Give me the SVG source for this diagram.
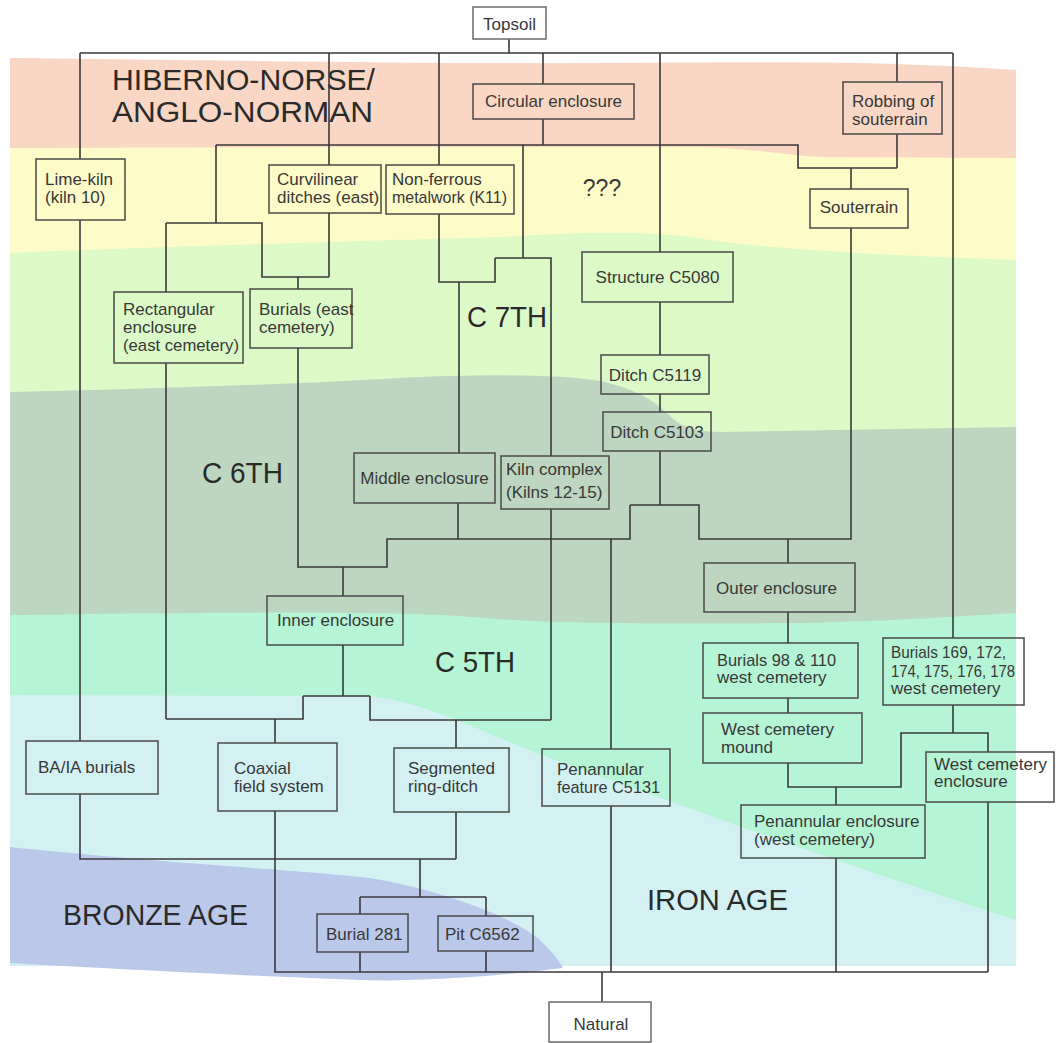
<svg xmlns="http://www.w3.org/2000/svg" width="1056" height="1043" viewBox="0 0 1056 1043">
<style>
.box{fill:none;stroke:#4a4a4a;stroke-width:1.5}
.wbox{fill:#fff;stroke:#6a6a6a;stroke-width:1.5}
.t{font-family:"Liberation Sans",Arial,sans-serif;font-size:17px;fill:#383838}
.c{text-anchor:middle}
.era{font-family:"Liberation Sans",Arial,sans-serif;font-size:30px;fill:#2a2a2a}
.ln{fill:none;stroke:#3a3a3a;stroke-width:1.6}
</style>
<rect width="1056" height="1043" fill="#fff"/>
<g id="bands">
<path fill="#f9d7c4" d="M10,58 C200,60 450,64 600,63 C750,62 880,60 1016,70 L1016,966 L10,966 Z"/>
<path fill="#fdfbc8" d="M10,148 L300,147 L700,147 C760,149 790,156 820,157 L1016,158 L1016,966 L10,966 Z"/>
<path fill="#dcfac7" d="M10,253 C150,247 400,240 500,237 C560,234 640,228 710,240 C780,250 900,256 1016,260 L1016,966 L10,966 Z"/>
<path fill="#bdd6bf" d="M10,392 C150,389 300,384 400,378 C480,374 560,374 600,381 C640,390 655,402 668,414 C678,425 690,431 720,432 L1016,427 L1016,966 L10,966 Z"/>
<path fill="#b5f4d4" d="M10,615 C200,612 400,611 470,617 C530,622 600,624 800,623 C900,621 960,616 1016,613 L1016,966 L10,966 Z"/>
<path fill="#d3f1f3" d="M10,695 L370,696 C430,703 480,732 550,758 C640,790 800,850 1016,920 L1016,966 L10,966 Z"/>
<path fill="#bac8ea" d="M10,847 C150,862 300,870 370,878 C440,890 510,915 540,940 C552,952 560,962 563,968 C500,976 420,982 360,980 C250,976 100,968 10,963 Z"/>
</g>
<g id="era-labels">
<text class="era" x="112" y="90" textLength="263" lengthAdjust="spacingAndGlyphs">HIBERNO-NORSE/</text>
<text class="era" x="112" y="122" textLength="261" lengthAdjust="spacingAndGlyphs">ANGLO-NORMAN</text>
<text class="era" x="467" y="327" textLength="80" lengthAdjust="spacingAndGlyphs">C 7TH</text>
<text class="era" x="202" y="483" textLength="81" lengthAdjust="spacingAndGlyphs">C 6TH</text>
<text class="era" x="435" y="672" textLength="80" lengthAdjust="spacingAndGlyphs">C 5TH</text>
<text class="era" x="63" y="925" textLength="185" lengthAdjust="spacingAndGlyphs">BRONZE AGE</text>
<text class="era" x="647" y="910" textLength="141" lengthAdjust="spacingAndGlyphs">IRON AGE</text>
<text class="t c" x="602" y="196" style="font-size:23px">???</text>
</g>
<g id="connectors">
<path class="ln" d="M509,39 V53 M80,53 H953"/>
<path class="ln" d="M80,53 V159 M329,53 V165 M439,53 V165 M543,53 V84 M660,53 V252 M897,53 V82 M953,53 V638"/>
<path class="ln" d="M543,119 V145 M216,145 H798 V168 H897 M897,134 V168 M851,168 V189"/>
<path class="ln" d="M216,145 V223 M166,223 H262 V277 H329 M166,223 V292 M329,213 V277 M298,277 V289"/>
<path class="ln" d="M523,145 V258 M495,258 H551 V456 M439,214 V282 H495 V258 M459,282 V453"/>
<path class="ln" d="M660,302 V355 M660,394 V412 M660,451 V505 M630,505 H699 V539 H851 V228 M630,505 V539 H387 V567 H298 V348 M343,567 V596"/>
<path class="ln" d="M458,503 V539 M551,509 V720 M788,539 V563 M611,539 V749"/>
<path class="ln" d="M343,645 V696 M303,696 H370 M303,696 V719 H166 M166,363 V719 M275,719 V743 M370,696 V720 H551 M456,720 V748"/>
<path class="ln" d="M80,220 V741 M80,794 V859 H456 M456,812 V859 M420,859 V897 M360,897 H486 M360,897 V914 M486,897 V916"/>
<path class="ln" d="M275,811 V972 H988 M360,952 V972 M486,951 V972 M611,806 V972 M602,972 V1002"/>
<path class="ln" d="M788,612 V643 M788,698 V713 M788,763 V787 H901 V733 H988 V752 M953,705 V733 M836,787 V805 M836,858 V972 M988,802 V972"/>
</g>
<g id="topsoil"><rect class="wbox" x="473" y="7" width="73" height="32"/><text class="t c" x="509.5" y="30">Topsoil</text></g>
<g id="circular-enclosure"><rect class="box" x="473" y="84" width="161" height="35"/><text class="t c" x="553.5" y="107">Circular enclosure</text></g>
<g id="robbing-souterrain"><rect class="box" x="843" y="82" width="99" height="52"/><text class="t" x="852" y="106.5">Robbing of</text><text class="t" x="852" y="125">souterrain</text></g>
<g id="lime-kiln"><rect class="box" x="36" y="159" width="89" height="61"/><text class="t" x="45" y="185">Lime-kiln</text><text class="t" x="45" y="203">(kiln 10)</text></g>
<g id="curvilinear-ditches"><rect class="box" x="269" y="165" width="112" height="48"/><text class="t" x="277" y="185">Curvilinear</text><text class="t" x="277" y="203">ditches (east)</text></g>
<g id="non-ferrous"><rect class="box" x="386" y="165" width="128" height="49"/><text class="t" x="392" y="185">Non-ferrous</text><text class="t" x="392" y="203" textLength="115" lengthAdjust="spacingAndGlyphs">metalwork (K11)</text></g>
<g id="souterrain"><rect class="box" x="810" y="189" width="98" height="39"/><text class="t c" x="859" y="213">Souterrain</text></g>
<g id="structure-c5080"><rect class="box" x="582" y="252" width="151" height="50"/><text class="t c" x="657.5" y="283">Structure C5080</text></g>
<g id="rectangular-enclosure"><rect class="box" x="114" y="292" width="129" height="71"/><text class="t" x="123" y="315">Rectangular</text><text class="t" x="123" y="333">enclosure</text><text class="t" x="123" y="351" textLength="116" lengthAdjust="spacingAndGlyphs">(east cemetery)</text></g>
<g id="burials-east"><rect class="box" x="250" y="289" width="102" height="59"/><text class="t" x="259" y="315">Burials (east</text><text class="t" x="259" y="333">cemetery)</text></g>
<g id="ditch-c5119"><rect class="box" x="601" y="355" width="108" height="39"/><text class="t c" x="655" y="381">Ditch C5119</text></g>
<g id="ditch-c5103"><rect class="box" x="603" y="412" width="108" height="39"/><text class="t c" x="657" y="438">Ditch C5103</text></g>
<g id="middle-enclosure"><rect class="box" x="354" y="453" width="141" height="50"/><text class="t c" x="424.5" y="484">Middle enclosure</text></g>
<g id="kiln-complex"><rect class="box" x="501" y="456" width="108" height="53"/><text class="t" x="506" y="475">Kiln complex</text><text class="t" x="506" y="498">(Kilns 12-15)</text></g>
<g id="outer-enclosure"><rect class="box" x="704" y="563" width="151" height="49"/><text class="t" x="716" y="594">Outer enclosure</text></g>
<g id="inner-enclosure"><rect class="box" x="267" y="596" width="136" height="49"/><text class="t" x="277" y="626">Inner enclosure</text></g>
<g id="burials-98-110"><rect class="box" x="703" y="643" width="155" height="55"/><text class="t" x="717" y="666" textLength="119" lengthAdjust="spacingAndGlyphs">Burials 98 &amp; 110</text><text class="t" x="717" y="683">west cemetery</text></g>
<g id="burials-169-178"><rect class="box" x="883" y="638" width="141" height="67"/><text class="t" x="891" y="658" textLength="115" lengthAdjust="spacingAndGlyphs">Burials 169, 172,</text><text class="t" x="891" y="676.5" textLength="124" lengthAdjust="spacingAndGlyphs">174, 175, 176, 178</text><text class="t" x="891" y="694">west cemetery</text></g>
<g id="west-cemetery-mound"><rect class="box" x="703" y="713" width="159" height="50"/><text class="t" x="721" y="735">West cemetery</text><text class="t" x="721" y="753">mound</text></g>
<g id="ba-ia-burials"><rect class="box" x="26" y="741" width="132" height="53"/><text class="t" x="38" y="773">BA/IA burials</text></g>
<g id="coaxial-field-system"><rect class="box" x="218" y="743" width="119" height="68"/><text class="t" x="234" y="774">Coaxial</text><text class="t" x="234" y="792">field system</text></g>
<g id="segmented-ring-ditch"><rect class="box" x="394" y="748" width="115" height="64"/><text class="t" x="408" y="774">Segmented</text><text class="t" x="408" y="792">ring-ditch</text></g>
<g id="penannular-feature"><rect class="box" x="542" y="749" width="128" height="57"/><text class="t" x="557" y="775">Penannular</text><text class="t" x="557" y="793" textLength="103" lengthAdjust="spacingAndGlyphs">feature C5131</text></g>
<g id="west-cemetery-enclosure"><rect class="box" x="926" y="752" width="128" height="50"/><text class="t" x="934" y="770">West cemetery</text><text class="t" x="934" y="787">enclosure</text></g>
<g id="penannular-enclosure"><rect class="box" x="741" y="805" width="184" height="53"/><text class="t" x="754" y="827">Penannular enclosure</text><text class="t" x="754" y="845">(west cemetery)</text></g>
<g id="burial-281"><rect class="box" x="317" y="914" width="91" height="38"/><text class="t" x="326" y="940">Burial 281</text></g>
<g id="pit-c6562"><rect class="box" x="438" y="916" width="95" height="35"/><text class="t" x="445" y="939.5">Pit C6562</text></g>
<g id="natural"><rect class="wbox" x="549" y="1002" width="102" height="40"/><text class="t c" x="601" y="1030">Natural</text></g>
</svg>
